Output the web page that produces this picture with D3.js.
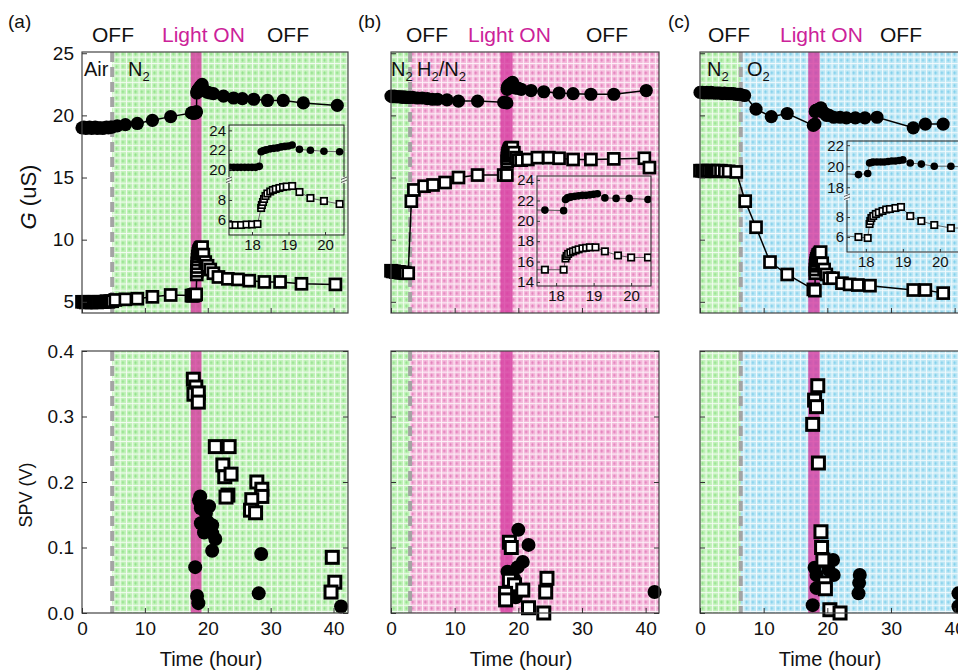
<!DOCTYPE html>
<html>
<head>
<meta charset="utf-8">
<script src="https://cdnjs.cloudflare.com/ajax/libs/d3/7.8.5/d3.min.js"></script>
<style>
body { margin: 0; background: #fff; }
svg { display: block; font-family: "Liberation Sans", Arial, sans-serif; }
</style>
</head>
<body>
<svg id="chart" width="958" height="671"></svg>
<script>
// ---- data ----
var panelNames = ['(a)', '(b)', '(c)'];
var gasBefore = ['Air', 'N2', 'N2'];
var gasAfter = ['N2', 'H2/N2', 'O2'];
var gasSwitch = [4.8, 3.0, 6.4];          // hour of gas change (dashed line)
var lightOn = [[17.3, 19.0], [17.2, 19.1], [17.0, 18.8]];

var timeTicks = [0, 10, 20, 30, 40];
var gTicks = [5, 10, 15, 20, 25];
var spvTicks = [0.0, 0.1, 0.2, 0.3, 0.4];
var insetTimeTicks = [18, 19, 20];
var insetUpperTicks = [[20, 22, 24], [14, 16, 18, 20, 22, 24], [18, 20, 22]];
var insetLowerTicks = [[6, 8], [], [6, 8]];
var insetTimeRange = [[17.37, 20.52], [17.49, 20.53], [17.49, 20.6]];
var insetUpperRange = [[18.9, 24.55], [13.6, 24.4], [17.07, 22.4]];
var insetLowerRange = [[4.5, 10], null, [4.5, 10]];

// G (uS) vs time (hour)
var gCircA = [[0,19.0],[0.3,19.05],[0.6,18.95],[0.9,19.0],[1.2,19.05],[1.5,18.95],[1.8,19.0],[2.1,19.05],[2.4,18.95],[2.7,19.0],[3.0,19.0],[3.3,18.95],[3.6,19.0],[3.9,19.05],[4.2,19.0],[4.5,19.05],[4.8,19.05],[5.6,19.15],[6.9,19.25],[8.8,19.35],[11.2,19.6],[14.1,19.9],[17.4,20.2],[17.5,20.2],[17.6,20.2],[17.7,20.2],[17.8,20.2],[17.9,20.2],[18.0,20.2],[18.1,20.2],[18.2,20.3],[18.25,21.8],[18.3,21.9],[18.35,21.95],[18.4,22.0],[18.5,22.1],[18.6,22.15],[18.7,22.2],[18.8,22.3],[18.9,22.35],[19.0,22.4],[19.1,22.5],[19.3,22.05],[19.6,21.95],[19.97,21.85],[20.4,21.8],[20.9,21.75],[22.5,21.55],[24.1,21.4],[25.5,21.35],[27.3,21.3],[29.5,21.2],[32.0,21.2],[35.2,21.0],[40.6,20.8]];
var gSqA = [[0,5.0],[0.3,5.0],[0.6,4.95],[0.9,5.0],[1.2,5.0],[1.5,4.95],[1.8,5.0],[2.1,5.0],[2.4,4.95],[2.7,5.0],[3.0,5.0],[3.3,5.0],[3.6,5.0],[3.9,5.05],[4.2,5.0],[4.5,5.05],[4.8,5.05],[5.3,5.15],[6.9,5.2],[8.8,5.25],[11.2,5.4],[14.1,5.55],[17.4,5.5],[17.55,5.5],[17.7,5.5],[17.85,5.55],[18.0,5.55],[18.15,5.6],[18.25,7.2],[18.27,7.5],[18.3,7.8],[18.33,8.1],[18.37,8.4],[18.42,8.65],[18.5,8.85],[18.57,9.0],[18.65,9.1],[18.75,9.2],[18.85,9.3],[18.95,9.35],[19.1,9.4],[19.3,8.8],[19.6,8.2],[19.97,7.9],[20.4,7.6],[20.9,7.3],[21.7,7.0],[23.2,6.85],[24.8,6.8],[26.6,6.7],[29.0,6.6],[31.5,6.6],[34.9,6.45],[40.3,6.4]];
var gCircB = [[0,21.55],[0.25,21.5],[0.5,21.55],[0.75,21.5],[1.0,21.5],[1.25,21.5],[1.5,21.5],[1.75,21.45],[2.0,21.5],[2.25,21.45],[2.5,21.45],[2.75,21.45],[3.0,21.45],[3.4,21.45],[4.1,21.4],[4.9,21.4],[5.7,21.35],[6.5,21.3],[7.3,21.3],[8.8,21.25],[10.6,21.15],[13.6,21.15],[17.7,21.05],[18.2,21.0],[18.25,22.1],[18.3,22.25],[18.35,22.3],[18.4,22.35],[18.5,22.4],[18.6,22.45],[18.7,22.5],[18.8,22.5],[18.9,22.55],[19.0,22.6],[19.1,22.65],[19.3,22.25],[19.6,22.2],[19.95,22.2],[20.45,22.1],[22.0,22.0],[24.0,21.9],[26.4,21.8],[28.6,21.75],[31.4,21.7],[35.0,21.7],[40.1,22.0]];
var gSqB = [[0,7.5],[0.25,7.45],[0.5,7.45],[0.75,7.4],[1.0,7.4],[1.25,7.4],[1.5,7.35],[1.75,7.35],[2.0,7.35],[2.25,7.3],[2.7,7.3],[3.2,13.1],[3.6,14.0],[5.2,14.3],[6.6,14.4],[8.5,14.6],[10.6,15.0],[13.6,15.2],[17.7,15.2],[18.2,15.2],[18.25,16.3],[18.28,16.55],[18.32,16.75],[18.38,16.9],[18.45,17.0],[18.52,17.1],[18.6,17.2],[18.7,17.3],[18.8,17.35],[18.9,17.4],[19.05,17.4],[19.3,17.0],[19.65,16.6],[20.0,16.4],[20.45,16.4],[21.5,16.45],[23.0,16.6],[24.8,16.6],[26.4,16.55],[28.6,16.45],[31.4,16.45],[35.0,16.5],[39.8,16.55],[40.6,15.8]];
var gCircC = [[0,21.85],[0.35,21.85],[0.7,21.8],[1.05,21.85],[1.4,21.8],[1.75,21.85],[2.1,21.8],[2.45,21.8],[2.8,21.8],[3.15,21.8],[3.5,21.75],[3.85,21.8],[4.2,21.75],[4.55,21.75],[4.9,21.75],[5.25,21.75],[5.6,21.7],[5.95,21.7],[6.3,21.7],[7.0,21.6],[8.8,20.5],[11.2,19.9],[13.7,20.15],[17.8,19.2],[18.05,19.3],[18.1,20.3],[18.15,20.35],[18.2,20.4],[18.3,20.4],[18.4,20.4],[18.5,20.4],[18.6,20.45],[18.7,20.5],[18.8,20.5],[18.9,20.55],[19.0,20.6],[19.2,20.3],[19.5,20.2],[19.85,20.0],[20.3,20.0],[21.0,19.85],[22.0,19.85],[23.0,19.8],[24.4,19.8],[25.9,19.8],[27.8,19.85],[33.5,19.0],[35.4,19.3],[38.2,19.3]];
var gSqC = [[0,15.55],[0.35,15.55],[0.7,15.5],[1.05,15.55],[1.4,15.55],[1.75,15.5],[2.1,15.55],[2.45,15.5],[2.8,15.55],[3.3,15.55],[3.9,15.5],[4.5,15.5],[5.7,15.45],[7.1,13.1],[8.8,11.0],[11.0,8.2],[13.7,7.2],[17.8,6.0],[18.05,5.9],[18.1,7.3],[18.12,7.6],[18.15,7.9],[18.2,8.1],[18.27,8.3],[18.35,8.45],[18.45,8.6],[18.55,8.75],[18.65,8.8],[18.8,8.9],[18.95,9.0],[19.2,8.1],[19.5,7.6],[19.85,7.2],[20.3,6.9],[20.9,6.9],[22.3,6.5],[23.5,6.4],[24.8,6.35],[26.7,6.3],[33.5,5.95],[35.4,5.95],[38.2,5.7]];

// SPV (V) vs time (hour)
var spvSqA = [[17.7,0.357],[18.1,0.345],[17.8,0.334],[18.5,0.336],[18.5,0.322],[21.2,0.254],[23.4,0.254],[22.4,0.226],[22.7,0.208],[23.7,0.212],[23.2,0.18],[22.9,0.177],[27.8,0.2],[28.6,0.189],[28.6,0.178],[27.0,0.173],[26.8,0.157],[27.6,0.153],[39.8,0.085],[40.2,0.047],[39.6,0.032]];
var spvCircA = [[18.8,0.178],[18.0,0.07],[18.3,0.026],[18.5,0.015],[18.6,0.172],[18.9,0.16],[20.2,0.163],[18.9,0.137],[19.7,0.152],[20.0,0.139],[20.7,0.134],[19.4,0.123],[20.2,0.126],[20.7,0.122],[21.2,0.113],[20.7,0.095],[28.5,0.09],[28.1,0.03],[41.2,0.01]];
var spvSqB = [[18.6,0.108],[18.9,0.1],[18.6,0.05],[19.4,0.043],[18.0,0.03],[18.0,0.02],[20.7,0.035],[24.5,0.053],[24.3,0.032],[21.6,0.008],[24.0,0.0]];
var spvCircB = [[20.0,0.127],[21.6,0.104],[20.7,0.078],[19.9,0.07],[18.3,0.063],[19.3,0.053],[18.0,0.031],[18.8,0.04],[19.6,0.024],[41.4,0.032]];
var spvSqC = [[18.5,0.347],[18.0,0.325],[18.3,0.315],[17.7,0.288],[18.6,0.229],[19.0,0.124],[19.1,0.1],[19.3,0.081],[19.6,0.046],[19.7,0.037],[20.4,0.005],[22.0,0.0]];
var spvCircC = [[18.0,0.069],[18.3,0.058],[19.9,0.076],[20.9,0.081],[21.0,0.058],[20.2,0.066],[18.3,0.038],[17.7,0.012],[25.1,0.058],[25.0,0.046],[24.9,0.03],[40.6,0.03],[40.6,0.01]];

var gCirc = [gCircA, gCircB, gCircC];
var gSq = [gSqA, gSqB, gSqC];
var spvCirc = [spvCircA, spvCircB, spvCircC];
var spvSq = [spvSqA, spvSqB, spvSqC];

// ---- layout ----
var panelLeft = [82, 391, 700];
var panelWidth = [266, 268, 268];
var timeMax = [42.3, 42.1, 42.1];
var topRow = [52, 313];
var botRow = [351, 613];
var insetBoxes = [
  {x: 229, y: 125, w: 115, h: 110, brk: 55},
  {x: 537, y: 176, w: 114, h: 110, brk: 0},
  {x: 847, y: 141, w: 115, h: 111, brk: 56}
];

var svg = d3.select('#chart');
var defs = svg.append('defs');

function makePattern(id, base, dark) {
  var s = 6.3;
  var p = defs.append('pattern').attr('id', id)
    .attr('patternUnits', 'userSpaceOnUse')
    .attr('width', s).attr('height', s);
  p.append('rect').attr('width', s).attr('height', s).attr('fill', base);
  p.append('path').attr('d', 'M0,0.5H' + s + 'M0.5,0V' + s)
    .attr('stroke', '#fff').attr('stroke-width', 0.9).attr('opacity', 0.85);
  p.append('path').attr('d', 'M1.8,3.6H4.8M3.3,2.1V5.1')
    .attr('stroke', dark).attr('stroke-width', 0.7);
}
makePattern('pat-N2', '#c2f1ba', '#86dd7f');
makePattern('pat-H2', '#f4badb', '#df70b3');
makePattern('pat-O2', '#bde7f5', '#72cae8');
var gasFill = {'Air': '#fff', 'N2': 'url(#pat-N2)', 'H2/N2': 'url(#pat-H2)', 'O2': 'url(#pat-O2)'};

// letters as normal text, digits as subscripts
function chemText(sel, label) {
  var parts = label.match(/[A-Za-z\/]+|\d/g);
  var shifted = false;
  parts.forEach(function (p) {
    if (/\d/.test(p)) {
      sel.append('tspan').attr('dy', 5).attr('font-size', '0.65em').text(p);
      shifted = true;
    } else {
      var t = sel.append('tspan').text(p);
      if (shifted) { t.attr('dy', -5); shifted = false; }
    }
  });
}

function styleAxis(a, size) {
  a.select('.domain').remove();
  a.attr('font-family', null).attr('font-size', size);
  a.selectAll('line').attr('stroke', '#333');
  a.selectAll('text').attr('fill', '#111');
  return a;
}

function drawBackground(g, i, x, y0, y1) {
  g.append('rect')
    .attr('x', x(0)).attr('y', y0)
    .attr('width', x(gasSwitch[i]) - x(0)).attr('height', y1 - y0)
    .attr('fill', gasFill[gasBefore[i]]);
  g.append('rect')
    .attr('x', x(gasSwitch[i])).attr('y', y0)
    .attr('width', x(timeMax[i]) - x(gasSwitch[i])).attr('height', y1 - y0)
    .attr('fill', gasFill[gasAfter[i]]);
  g.append('rect')
    .attr('x', x(lightOn[i][0])).attr('y', y0)
    .attr('width', x(lightOn[i][1]) - x(lightOn[i][0])).attr('height', y1 - y0)
    .attr('fill', '#d63a9f').attr('opacity', 0.8);
  g.append('line')
    .attr('x1', x(gasSwitch[i])).attr('x2', x(gasSwitch[i]))
    .attr('y1', y0).attr('y2', y1)
    .attr('stroke', '#a4a4a4').attr('stroke-width', 4)
    .attr('stroke-dasharray', '10,5');
}

function drawCircles(g, data, x, y, r) {
  g.append('g').selectAll('circle').data(data).enter().append('circle')
    .attr('cx', function (d) { return x(d[0]); })
    .attr('cy', function (d) { return y(d[1]); })
    .attr('r', r).attr('fill', '#000');
}

function drawSquares(g, data, x, y, s, sw) {
  g.append('g').selectAll('rect').data(data).enter().append('rect')
    .attr('x', function (d) { return x(d[0]) - s / 2; })
    .attr('y', function (d) { return y(d[1]) - s / 2; })
    .attr('width', s).attr('height', s)
    .attr('fill', '#fff').attr('stroke', '#000').attr('stroke-width', sw);
}

function drawLine(g, data, x, y, color, w) {
  var line = d3.line().x(function (d) { return x(d[0]); }).y(function (d) { return y(d[1]); });
  g.append('path').datum(data).attr('d', line)
    .attr('fill', 'none').attr('stroke', color).attr('stroke-width', w);
}

function breakMark(g, bx, by) {
  g.append('rect').attr('x', bx - 2).attr('y', by - 3).attr('width', 4).attr('height', 6).attr('fill', '#fff').attr('opacity', 0.8);
  g.append('path').attr('d', 'M' + (bx - 3) + ',' + (by - 0.5) + 'l6,-2.5M' + (bx - 3) + ',' + (by + 2.5) + 'l6,-2.5')
    .attr('stroke', '#333').attr('stroke-width', 0.8);
}

function drawInset(g, k) {
  var b = insetBoxes[k];
  var xi = d3.scaleLinear().domain(insetTimeRange[k]).range([b.x, b.x + b.w]);
  var split = insetLowerRange[k] != null;
  var brkY = split ? b.y + b.brk : b.y + b.h;
  var yUp = d3.scaleLinear().domain(insetUpperRange[k]).range([brkY, b.y]);
  var yLo = split ? d3.scaleLinear().domain(insetLowerRange[k]).range([b.y + b.h, brkY]) : yUp;
  var fmt = d3.format('d');

  var clipId = 'inset-clip-' + k;
  defs.append('clipPath').attr('id', clipId).append('rect')
    .attr('x', b.x).attr('y', b.y).attr('width', b.w).attr('height', b.h);
  var ig = g.append('g');
  var plot = ig.append('g').attr('clip-path', 'url(#' + clipId + ')');
  drawLine(plot, gCirc[k], xi, yUp, '#555', 0.9);
  drawLine(plot, gSq[k], xi, yLo, '#555', 0.9);
  drawCircles(plot, gCirc[k], xi, yUp, 3.8);
  drawSquares(plot, gSq[k], xi, yLo, 6.4, 1.7);

  ig.append('rect').attr('x', b.x).attr('y', b.y).attr('width', b.w).attr('height', b.h)
    .attr('fill', 'none').attr('stroke', '#222').attr('stroke-width', 1);

  styleAxis(ig.append('g').attr('transform', 'translate(' + b.x + ',0)')
    .call(d3.axisLeft(yUp).tickValues(insetUpperTicks[k]).tickFormat(fmt).tickSize(-3).tickPadding(3)), 15);
  if (split) {
    styleAxis(ig.append('g').attr('transform', 'translate(' + b.x + ',0)')
      .call(d3.axisLeft(yLo).tickValues(insetLowerTicks[k]).tickFormat(fmt).tickSize(-3).tickPadding(3)), 15);
    breakMark(ig, b.x, brkY);
    breakMark(ig, b.x + b.w, brkY);
  }
  styleAxis(ig.append('g').attr('transform', 'translate(0,' + (b.y + b.h) + ')')
    .call(d3.axisBottom(xi).tickValues(insetTimeTicks).tickFormat(fmt).tickSize(-3).tickPadding(4)), 15);
}

// ---- panels ----
var yG = d3.scaleLinear().domain([4.1, 25.1]).range([topRow[1], topRow[0]]);
var yS = d3.scaleLinear().domain([0, 0.4]).range([botRow[1], botRow[0]]);

for (var i = 0; i < 3; i++) {
  var x = d3.scaleLinear().domain([0, timeMax[i]]).range([panelLeft[i], panelLeft[i] + panelWidth[i]]);
  var x0 = panelLeft[i], x1 = panelLeft[i] + panelWidth[i];

  // top: conductance
  var gt = svg.append('g');
  drawBackground(gt, i, x, topRow[0], topRow[1]);
  drawInset(gt, i);
  drawLine(gt, gCirc[i], x, yG, '#000', 1.5);
  drawLine(gt, gSq[i], x, yG, '#000', 1.5);
  drawCircles(gt, gCirc[i], x, yG, 6.6);
  drawSquares(gt, gSq[i], x, yG, 11, 2.7);
  gt.append('rect').attr('x', x0).attr('y', topRow[0])
    .attr('width', x1 - x0).attr('height', topRow[1] - topRow[0])
    .attr('fill', 'none').attr('stroke', '#444').attr('stroke-width', 1.2);
  var axl = d3.axisLeft(yG).tickValues(gTicks).tickSize(-5).tickPadding(8);
  if (i > 0) axl.tickFormat('');
  styleAxis(gt.append('g').attr('transform', 'translate(' + x0 + ',0)').call(axl), 19);
  styleAxis(gt.append('g').attr('transform', 'translate(0,' + topRow[1] + ')')
    .call(d3.axisBottom(x).tickValues(timeTicks).tickSize(-5).tickFormat('')), 18);

  // bottom: surface photovoltage
  var gb = svg.append('g');
  drawBackground(gb, i, x, botRow[0], botRow[1]);
  drawCircles(gb, spvCirc[i], x, yS, 7);
  drawSquares(gb, spvSq[i], x, yS, 12, 3);
  gb.append('rect').attr('x', x0).attr('y', botRow[0])
    .attr('width', x1 - x0).attr('height', botRow[1] - botRow[0])
    .attr('fill', 'none').attr('stroke', '#444').attr('stroke-width', 1.2);
  var axs = d3.axisLeft(yS).tickValues(spvTicks).tickSize(-5).tickPadding(8).tickFormat(d3.format('.1f'));
  if (i > 0) axs.tickFormat('');
  styleAxis(gb.append('g').attr('transform', 'translate(' + x0 + ',0)').call(axs), 19);
  styleAxis(gb.append('g').attr('transform', 'translate(' + x1 + ',0)')
    .call(d3.axisRight(yS).tickValues(spvTicks).tickSize(-5).tickFormat('')), 18);
  styleAxis(gb.append('g').attr('transform', 'translate(0,' + botRow[1] + ')')
    .call(d3.axisBottom(x).tickValues(timeTicks).tickSize(-5).tickPadding(9)), 19);

  svg.append('text').attr('x', (x0 + x1) / 2 - 4).attr('y', 666)
    .attr('text-anchor', 'middle').attr('font-size', 20).attr('fill', '#111')
    .text('Time (hour)');
}

// ---- header texts ----
var headX = [[8, 92, 162, 267], [358, 406, 468, 586], [668, 708, 780, 880]];
headX.forEach(function (h, k) {
  svg.append('text').attr('x', h[0]).attr('y', 28).attr('font-size', 19).attr('fill', '#111').text(panelNames[k]);
  svg.append('text').attr('x', h[1]).attr('y', 42).attr('font-size', 21).attr('fill', '#111').text('OFF');
  svg.append('text').attr('x', h[2]).attr('y', 42).attr('font-size', 21).attr('fill', '#cc2299').text('Light ON');
  svg.append('text').attr('x', h[3]).attr('y', 42).attr('font-size', 21).attr('fill', '#111').text('OFF');
});

var gasX = [[84, 128], [391, 417], [707, 747]];
gasX.forEach(function (gx, k) {
  chemText(svg.append('text').attr('x', gx[0]).attr('y', 76).attr('font-size', 20).attr('fill', '#111'), gasBefore[k]);
  chemText(svg.append('text').attr('x', gx[1]).attr('y', 76).attr('font-size', 20).attr('fill', '#111'), gasAfter[k]);
});

var gLab = svg.append('text').attr('transform', 'translate(36,197) rotate(-90)')
  .attr('text-anchor', 'middle').attr('font-size', 22).attr('fill', '#111');
gLab.append('tspan').attr('font-style', 'italic').text('G');
gLab.append('tspan').text(' (uS)');

svg.append('text').attr('transform', 'translate(32,495) rotate(-90)')
  .attr('text-anchor', 'middle').attr('font-size', 18).attr('fill', '#111')
  .text('SPV (V)');
</script>
</body>
</html>
